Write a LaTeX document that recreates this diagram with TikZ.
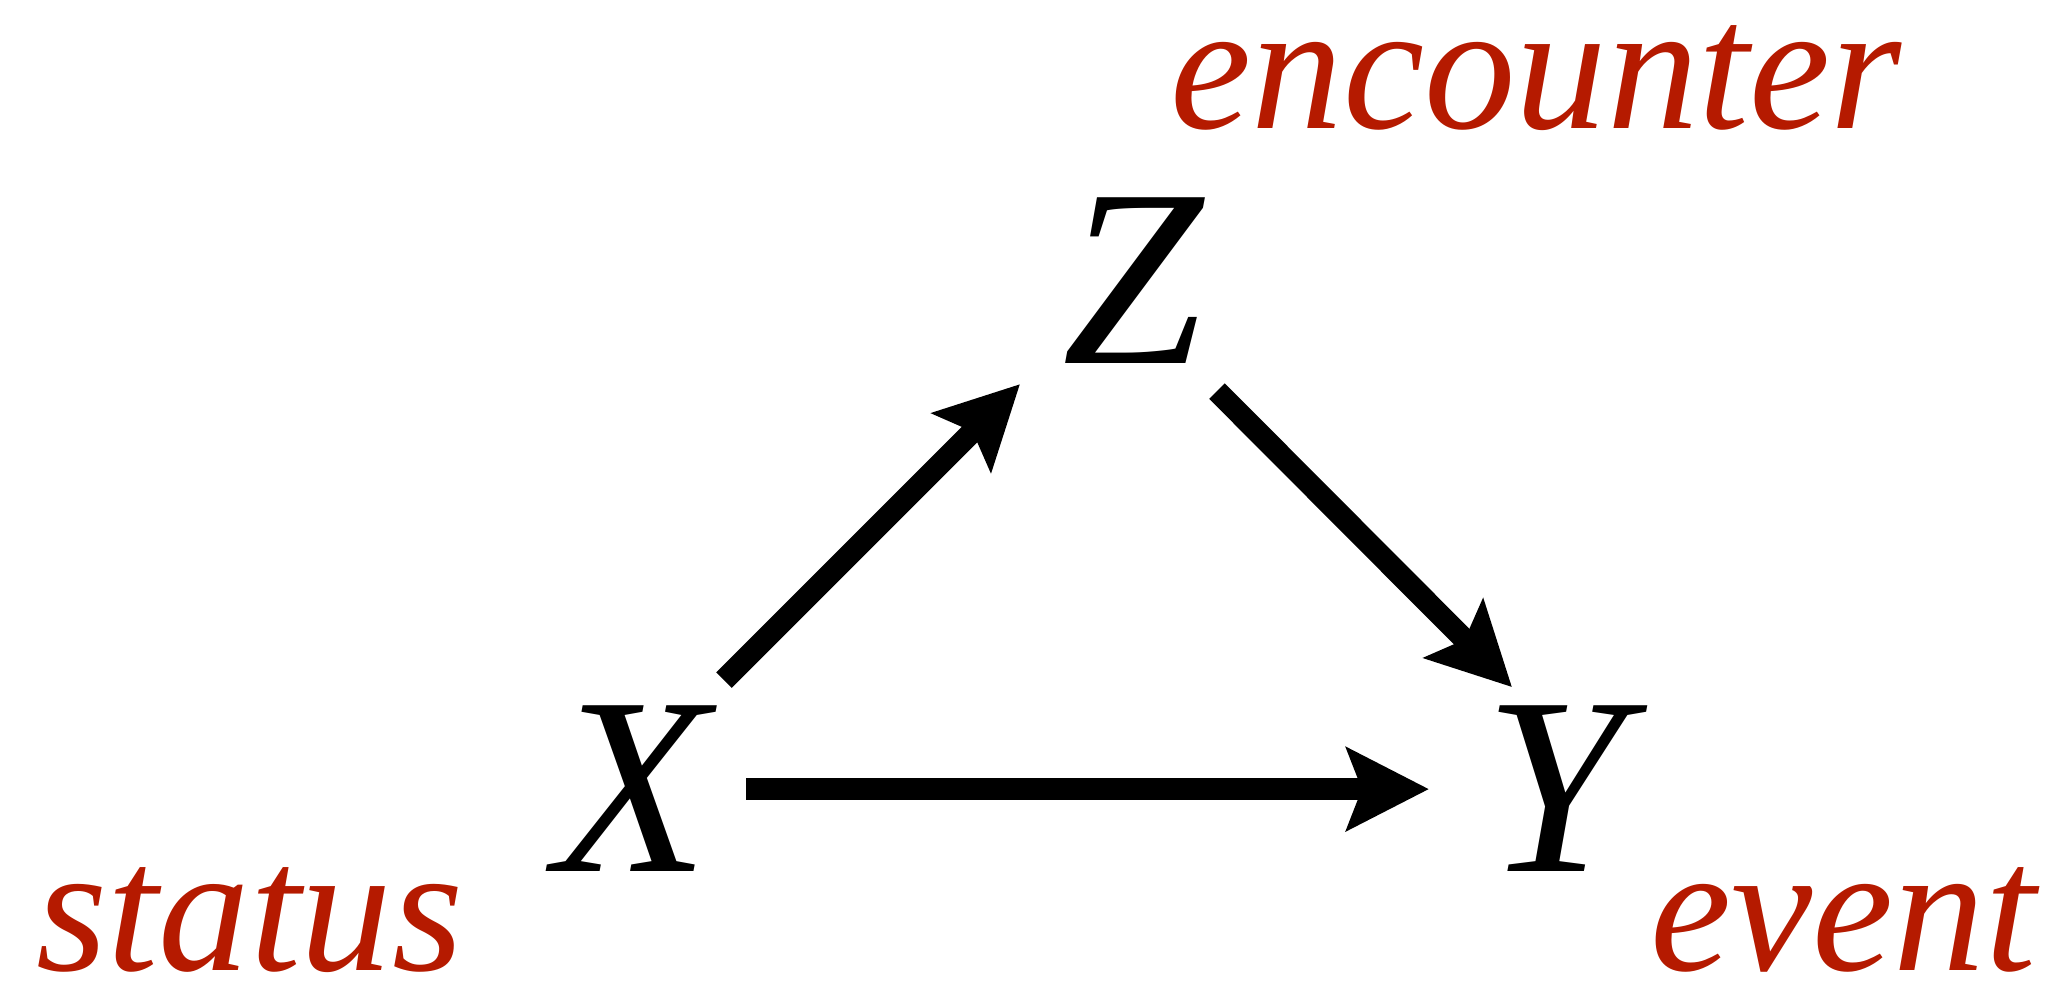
\documentclass[tikz,border=0pt]{standalone}
\usepackage{fontspec}
\setmainfont{Liberation Serif}
\usetikzlibrary{arrows.meta,calc}
\definecolor{labelred}{HTML}{B51A00}

\tikzset{
  var/.style={font=\fontsize{72}{80}\selectfont\itshape, inner sep=0.12cm, anchor=base},
  tag/.style={font=\fontsize{52}{60}\selectfont\itshape, text=labelred, inner sep=0.3cm, anchor=base},
  arr/.style={line width=0.22cm, -{Stealth[length=0.82cm, width=0.82cm, inset=0.15cm]}}
}

\begin{document}
\begin{tikzpicture}[x=0.01cm, y=-0.01cm]
  \useasboundingbox (0,0) rectangle (2054,984);

  % variables
  \node[var] (X) at (632,871) {X};
  \node[var] (Z) at (1133,363) {Z};
  \node[var] (Y) at (1555,871) {Y};

  % labels
  \node[tag] (status) at (250,970) {status};
  \node[tag] (encounter) at (1536,128) {encounter};
  \node[tag] (event) at (1843,970) {event};

  % edges
  \draw[arr] ($(X)+(92,-108)$) -- ($(Z)+(-113,104)$);
  \draw[arr] ($(Z)+(84,111)$) -- ($(Y)+(-43,-101)$);
  \draw[arr] ($(X)+(114,1)$) -- ($(Y)+(-126,1)$);
\end{tikzpicture}
\end{document}
